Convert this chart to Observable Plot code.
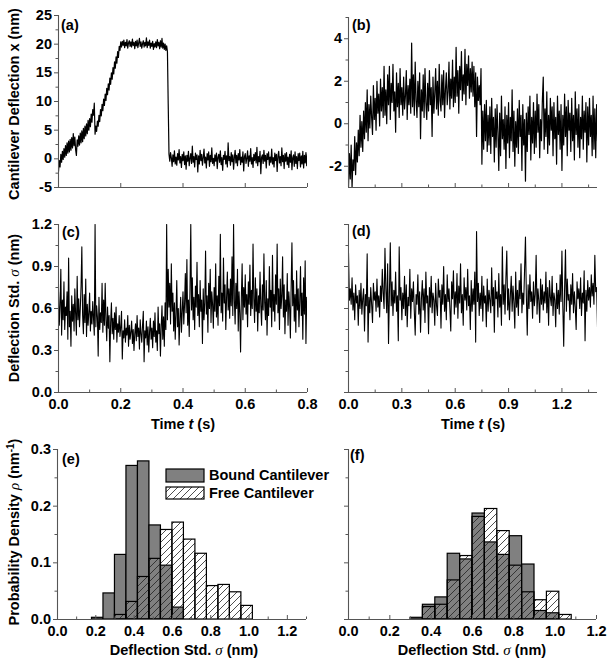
<!DOCTYPE html>
<html><head><meta charset="utf-8">
<script src="https://cdn.jsdelivr.net/npm/d3@7"></script>
<script src="https://cdn.jsdelivr.net/npm/@observablehq/plot@0.6"></script>
<style>
body{margin:0;background:#fff;}
#root{position:relative;width:609px;height:665px;overflow:hidden;}
</style></head><body><div id="root"></div>
<script>
// ---------- Data ----------
// (a) cantilever deflection x (nm), sampled every 0.0025 s from 0 to 0.8 s
const stepA = 0.0025;
const deflA = [
-2.2,-0.3,-1.4,0.8,-0.6,1.3,-0.1,1.8,0.3,
2.3,0.6,2.8,1.0,3.1,1.2,3.4,1.5,3.7,1.9,4.4,
2.3,3.8,1.6,0.6,
3.3,2.2,4.0,2.4,4.5,2.8,4.9,3.0,5.3,3.5,5.7,4.0,6.1,4.4,6.7,5.0,
7.0,5.6,7.8,6.4,8.6,7.6,9.7,
4.3,
5.7,4.8,6.6,5.7,7.6,6.5,8.6,7.5,9.5,8.4,10.4,9.3,11.3,10.2,12.3,11.2,13.1,12.0,14.1,13.0,15.0,13.9,15.9,14.8,16.9,15.8,17.8,16.7,18.7,17.7,19.6,18.9,20.4,
19.5,20.5,19.8,20.7,19.4,20.3,19.7,20.8,19.3,20.2,
20.6,19.6,20.4,19.5,20.9,19.8,20.3,19.2,20.5,19.7,
20.7,19.4,20.2,21.0,19.6,20.4,19.3,20.1,20.6,19.5,
20.3,19.7,21.1,19.4,20.4,19.8,20.7,19.3,20.2,19.6,
20.5,19.1,20.1,19.5,20.4,19.4,20.8,19.7,20.3,19.2,
20.6,19.5,21.0,19.3,20.2,19.1,20.0,18.9,19.7,18.7,
9.5,0.8,
-0.4,1.1,0.2,-1.3,0.7,-0.5,1.4,-0.9,0.3,-1.1,
0.9,-0.2,1.6,-0.7,0.4,-1.5,0.8,-0.3,1.2,-1.0,
0.5,-1.8,0.6,-0.4,1.3,-1.2,0.1,0.9,-0.8,2.2,
-0.6,0.4,-1.4,1.0,-0.1,0.7,-2.3,0.5,-0.9,1.5,
-0.3,0.8,-1.1,0.2,1.7,-0.7,0.3,-1.6,0.9,-0.2,
1.2,-1.3,0.6,-0.5,1.9,-0.8,0.1,-1.2,0.7,-0.4,
1.0,-1.7,0.3,0.8,-0.6,1.4,-1.0,0.2,-2.0,0.6,
-0.1,1.3,-0.9,0.5,-1.4,2.8,-0.3,0.4,-1.1,1.1,
-0.5,0.7,-1.8,0.2,1.5,-0.7,0.6,-1.2,0.9,-0.2,
1.6,-1.0,0.3,-0.6,1.2,-2.1,0.4,0.9,-0.8,0.1,
1.4,-1.3,0.5,-0.4,1.8,-0.9,0.2,-1.5,0.8,-0.3,
1.1,-0.7,2.0,-1.2,0.4,-0.5,1.3,-2.6,0.3,0.7,
-0.8,1.5,-0.4,0.6,-1.6,0.9,-0.1,1.2,-1.1,0.3,
-0.6,1.7,-0.9,0.2,-1.4,1.0,-0.3,0.8,-2.2,0.5,
1.3,-0.7,0.4,-1.2,1.9,-0.5,0.6,-1.7,0.9,-0.4,
1.1,-1.0,0.3,-1.5,0.8,-0.6,1.4,-1.9,0.2,0.7,
-1.3,1.2,-0.8,0.4,-1.7,0.9,-0.3,1.0,-1.4,0.5,
-0.9,1.3,-1.6,0.6,-0.7,1.1,-1.2,0.8
];

// (b) deflection x (nm), every 0.005 s from 0 to 1.4 s
const stepB = 0.005;
const deflB = [
-3.0,-1.4,-2.6,-1.0,-3.0,-1.7,-2.2,-0.6,-2.4,-0.9,
-1.8,-0.3,-1.5,0.4,-1.1,0.1,-1.3,0.6,-0.7,1.0,
-0.4,1.6,-0.8,0.9,-0.2,1.3,0.3,-0.5,1.8,0.2,
1.2,-0.3,2.0,0.5,1.4,-0.1,2.1,0.6,1.7,0.3,
2.7,0.4,1.6,0.0,2.3,0.9,2.7,0.2,1.9,1.0,
2.8,0.6,1.5,-0.4,2.4,0.8,1.9,0.3,2.6,0.9,
1.7,0.4,2.2,0.7,1.3,2.5,0.2,1.8,0.9,2.1,
0.5,3.8,0.8,2.3,0.4,2.9,1.1,0.3,2.0,0.8,
2.4,-0.7,1.6,0.6,2.3,0.3,2.6,1.0,0.2,1.9,
0.6,2.5,0.9,1.7,-0.6,2.2,0.5,1.4,2.6,0.7,
2.0,0.4,2.8,1.1,0.6,2.3,0.9,2.5,0.3,1.6,
2.4,0.9,1.5,2.9,0.7,2.1,1.2,3.0,0.8,2.2,
1.0,3.6,1.3,2.5,0.5,2.7,1.6,3.4,1.1,2.3,
1.4,3.5,0.9,2.8,1.8,3.2,1.2,2.6,1.5,2.9,
1.3,2.7,0.8,2.4,-0.6,2.2,1.1,1.8,0.9,2.6,
-1.9,0.6,-1.2,0.9,-0.8,1.1,-1.3,0.4,-1.0,0.8,
-1.4,1.2,-0.6,0.3,-1.8,0.7,-1.1,0.9,-0.4,-2.2,
0.5,-1.5,1.3,-0.7,0.2,-1.2,0.8,-2.1,0.4,-0.9,
1.0,-1.6,0.3,-0.8,1.6,-1.3,0.6,-2.0,0.1,-1.1,
0.7,-1.4,1.1,-0.6,0.4,-2.2,0.9,-1.0,0.2,-2.7,
0.5,-1.3,0.8,-0.5,1.3,-1.7,0.3,-0.9,1.0,-1.4,
0.6,-1.1,1.4,-0.4,0.9,-1.6,0.2,-0.8,1.1,2.2,
-1.2,0.7,-0.6,1.5,-1.4,0.4,-1.0,1.2,-0.3,0.8,
-1.5,1.0,-0.7,0.3,-1.9,1.3,-0.5,0.6,-1.2,0.9,
-2.2,0.4,-1.0,1.4,-0.6,0.8,-1.5,1.1,-0.3,0.5,
-1.3,1.2,-0.8,0.4,-1.7,1.5,-0.5,0.7,-1.1,0.9,
-1.6,0.3,-0.7,1.3,-1.2,0.6,-0.4,1.0,-1.8,0.8,
-1.0,1.2,-0.6,0.4,-1.5,1.3,-1.2,0.7,-1.6,0.9,
-0.8
];

// (c) deflection std sigma (nm), every 0.0025 s from 0 to 0.8 s
const stepC = 0.0025;
const stdC = [
0.72,0.48,0.62,0.88,0.41,0.66,0.52,0.79,0.45,0.61,0.55,0.72,0.38,0.96,0.47,0.58,0.33,0.69,0.51,0.63,
0.44,0.74,0.56,0.41,0.83,0.52,0.67,0.47,0.60,0.76,1.04,0.55,0.42,0.70,0.50,0.81,0.40,0.63,0.48,0.57,
0.71,0.44,0.58,0.49,0.65,0.53,0.41,1.20,0.47,0.62,0.54,0.26,0.68,0.45,0.57,0.50,0.78,0.43,0.66,0.48,
0.78,0.52,0.37,0.61,0.46,0.55,0.22,0.50,0.64,0.42,0.53,0.38,0.57,0.45,0.61,0.36,0.49,0.43,0.55,0.40,
0.47,0.58,0.24,0.44,0.39,0.52,0.36,0.46,0.41,0.55,0.33,0.48,0.38,0.43,0.51,0.35,0.45,0.30,0.42,0.49,
0.37,0.55,0.40,0.46,0.31,0.52,0.42,0.36,0.48,0.58,0.22,0.44,0.39,0.51,0.34,0.47,0.29,0.43,0.53,0.38,
0.46,0.32,0.51,0.40,0.57,0.36,0.44,0.30,0.61,0.42,0.49,0.26,0.47,0.62,0.38,0.54,0.33,0.64,0.45,1.20,
0.52,0.88,0.61,0.78,0.49,0.92,0.58,0.71,0.44,0.64,0.38,0.56,0.80,0.47,0.60,0.34,0.52,0.68,0.43,0.58,
0.72,0.49,0.63,0.85,0.57,0.95,0.48,0.66,0.40,0.74,1.20,0.59,0.82,0.52,0.68,0.45,0.76,0.61,0.93,0.55,
0.70,0.47,0.80,0.58,0.66,0.35,0.74,0.52,0.64,1.01,0.56,0.69,0.43,0.78,0.60,0.88,0.50,0.72,0.63,0.46,
0.75,0.58,0.92,0.54,0.69,0.48,0.83,0.62,1.13,0.57,0.71,0.51,0.96,0.64,0.77,0.45,0.68,0.86,0.59,0.74,
0.53,0.81,0.62,0.97,0.55,1.20,0.66,0.49,0.78,0.60,0.88,0.44,0.72,0.57,0.29,0.68,0.92,0.52,0.75,0.61,
0.84,0.56,0.70,0.47,0.79,0.63,0.91,0.55,0.73,0.60,1.06,0.67,0.50,0.82,0.58,0.74,0.44,0.69,0.57,0.86,
0.62,0.48,0.77,0.59,0.99,0.64,0.52,0.80,0.41,0.67,0.55,0.90,0.61,0.73,0.47,0.98,0.58,0.70,0.51,0.84,
0.63,1.06,0.57,0.74,0.45,0.81,0.60,0.69,0.97,0.54,0.77,0.42,0.66,0.58,0.85,0.48,0.72,0.61,0.39,0.76,
1.07,0.62,0.80,0.51,0.70,0.43,0.87,0.59,0.74,0.47,0.65,0.90,0.55,0.71,0.38,0.82,0.56,0.94,0.35,0.68,
0.60
];

// (d) deflection std sigma (nm), every 0.005 s from 0 to 1.4 s
const stepD = 0.005;
const stdD = [
1.00,0.66,0.74,0.63,0.82,0.59,0.71,0.52,0.77,0.64,0.69,0.48,0.73,0.60,0.78,0.56,0.67,0.74,0.44,0.70,
0.62,0.99,0.36,0.68,0.57,0.75,0.63,0.50,0.78,0.66,0.72,0.58,0.81,0.61,0.69,0.54,0.76,0.65,0.88,0.71,
0.60,1.03,0.74,0.57,0.92,0.35,0.70,1.07,0.62,0.79,0.55,0.73,0.64,0.86,0.58,0.69,0.37,1.04,0.66,0.75,
0.52,0.71,0.60,0.83,0.55,0.77,0.47,0.68,0.62,0.88,0.53,0.74,0.65,0.79,0.58,0.41,0.70,0.63,0.84,0.56,
0.72,0.43,0.67,0.80,0.59,0.74,0.50,0.86,0.64,0.69,0.42,0.75,0.61,0.83,0.57,0.71,0.66,0.48,0.78,0.62,
0.55,0.81,0.68,0.73,0.46,0.77,0.63,0.90,0.58,0.70,0.52,0.84,0.65,0.74,0.60,0.44,0.79,0.67,0.87,0.56,
0.72,0.61,0.85,0.53,0.76,0.64,0.92,0.57,0.70,0.48,0.82,0.66,0.75,0.59,0.88,0.62,0.69,0.45,0.80,0.58,
0.74,0.63,0.86,0.36,1.15,0.65,0.78,0.55,0.71,0.60,0.83,0.51,0.76,0.64,0.69,0.47,0.81,0.58,0.73,0.66,
0.57,0.89,0.62,0.75,0.43,0.80,0.67,0.72,0.54,0.85,0.61,0.70,0.48,1.04,0.63,0.77,0.56,0.82,1.01,0.59,
0.74,0.52,0.69,0.83,0.58,0.76,0.64,0.46,0.86,0.61,0.73,0.55,0.80,0.67,0.92,0.57,0.71,0.63,0.88,1.11,
0.69,0.41,0.77,0.60,0.84,0.65,0.72,0.53,0.79,0.62,0.70,0.98,0.56,0.74,0.66,0.50,0.81,0.63,0.77,0.59,
0.72,0.64,0.86,0.57,0.75,0.48,0.80,0.68,0.62,0.83,0.55,0.71,0.66,0.47,0.78,0.60,0.73,0.56,0.84,0.65,
1.01,0.62,0.33,0.74,1.02,0.58,0.81,0.66,0.70,0.52,0.77,0.63,0.85,0.57,0.72,0.61,0.45,0.79,0.67,0.74,
0.60,0.82,0.55,0.71,0.64,0.87,0.37,0.73,0.58,0.80,0.66,0.75,0.61,0.84,0.69,0.78,0.63,0.98,0.72,0.75,
0.47
];

// (e)/(f) histograms: bin lower edges and probability densities (nm^-1)
const binWidth = 0.06;
const eBoundBins    = [0.18,0.24,0.30,0.36,0.42,0.48,0.54,0.60];
const eBoundDensity = [0.003,0.046,0.114,0.271,0.279,0.166,0.095,0.021];
const eFreeBins     = [0.30,0.36,0.42,0.48,0.54,0.60,0.66,0.72,0.78,0.84,0.90,0.96];
const eFreeDensity  = [0.008,0.031,0.075,0.107,0.158,0.171,0.141,0.116,0.059,0.061,0.048,0.024];
const fBoundBins    = [0.30,0.36,0.42,0.48,0.54,0.60,0.66,0.72,0.78,0.84,0.90,0.96];
const fBoundDensity = [0.003,0.026,0.039,0.116,0.106,0.187,0.136,0.114,0.147,0.097,0.015,0.011];
const fFreeBins     = [0.36,0.42,0.48,0.54,0.60,0.66,0.72,0.78,0.84,0.90,0.96,1.02];
const fFreeDensity  = [0.022,0.026,0.069,0.112,0.181,0.195,0.156,0.095,0.048,0.034,0.049,0.008];

// tick values
const ticksA_y = [-5,0,5,10,15,20,25];
const ticksA_yMinor = [-2.5,2.5,7.5,12.5,17.5,22.5];
const ticksA_x = [0,0.2,0.4,0.6,0.8];
const ticksB_y = [-2,0,2,4];
const ticksB_yMinor = [-1,1,3,5];
const ticksLong_x = [0,0.3,0.6,0.9,1.2];
const ticksLong_xMinor = [0.15,0.45,0.75,1.05,1.35];
const ticksStd_y = [0,0.3,0.6,0.9,1.2];
const ticksStd_yMinor = [0.15,0.45,0.75,1.05];
const ticksC_xMinor = [0.1,0.3,0.5,0.7];
const ticksHist_y = [0,0.1,0.2,0.3];
const ticksHist_yMinor = [0.05,0.15,0.25];
const ticksHist_x = [0,0.2,0.4,0.6,0.8,1.0,1.2];
const ticksE_xMinor = [0.1,0.3,0.5,0.7,0.9,1.1,1.3];
const ticksF_xMinor = [0.1,0.3,0.5,0.7,0.9,1.1];

// ---------- Drawing ----------
const FONT = '"Liberation Sans", Arial, Helvetica, sans-serif';
const axisColor = "#555";
const barGray = "#808080";
const root = document.getElementById("root");
const fmtPlain = d => String(d);
const fmt1 = d => d.toFixed(1);
const series = (vals, step) => vals.map((v, i) => ({t: i * step, v}));
const bars = (bins, dens) => bins.map((b, i) => ({x1: b, x2: b + binWidth, v: dens[i]}));

function panel(c) {
  const axes = [
    Plot.ruleY([c.yd[0]], {stroke: axisColor, strokeWidth: 1.1}),
    Plot.ruleX([c.xd[0]], {stroke: axisColor, strokeWidth: 1.1}),
    Plot.axisY(c.yMaj, {anchor: "left", tickSize: 4, tickFormat: () => "", stroke: axisColor, label: null}),
    Plot.axisX(c.xMaj, {anchor: "bottom", tickSize: -4, tickFormat: () => "", stroke: axisColor, label: null})
  ];
  if (c.yMin) axes.push(Plot.axisY(c.yMin, {anchor: "left", tickSize: 2.5, tickFormat: () => "", stroke: axisColor, label: null}));
  if (c.xMin) axes.push(Plot.axisX(c.xMin, {anchor: "bottom", tickSize: -2.5, tickFormat: () => "", stroke: axisColor, label: null}));
  if (c.yFmt) axes.push(Plot.axisY(c.yMaj, {anchor: "left", tickSize: 0, tickPadding: 6.5, tickFormat: c.yFmt, label: null, fill: "black"}));
  if (c.xFmt) axes.push(Plot.axisX(c.xMaj, {anchor: "bottom", tickSize: 0, tickPadding: 6, tickFormat: c.xFmt, label: null, fill: "black"}));
  const svg = Plot.plot({
    width: c.w, height: c.h,
    marginLeft: c.ml, marginRight: c.mr, marginTop: c.mt, marginBottom: c.mb,
    x: {domain: c.xd}, y: {domain: c.yd},
    style: {background: "transparent", overflow: "visible", fontFamily: FONT, fontSize: "14.5px", fontWeight: "bold", color: "black"},
    marks: [...c.marks, ...axes]
  });
  svg.style.position = "absolute";
  svg.style.left = c.left + "px";
  svg.style.top = c.top + "px";
  root.appendChild(svg);
}

const lineOpts = {x: "t", y: "v", stroke: "black", strokeWidth: 1.2, clip: true};
const lineOptsStd = {x: "t", y: "v", stroke: "black", strokeWidth: 1.1, clip: true};

// (a)
panel({left: 0, top: 0, w: 310, h: 200, ml: 58, mr: 3, mt: 15, mb: 13,
  xd: [0, 0.8], yd: [-5, 25], xMaj: ticksA_x, yMaj: ticksA_y, yMin: ticksA_yMinor, yFmt: fmtPlain,
  marks: [Plot.line(series(deflA, stepA), lineOpts)]});
// (b)
panel({left: 300, top: 0, w: 309, h: 200, ml: 48, mr: 12, mt: 17, mb: 13,
  xd: [0, 1.4], yd: [-3, 5], xMaj: ticksLong_x, xMin: ticksLong_xMinor, yMaj: ticksB_y, yMin: ticksB_yMinor, yFmt: fmtPlain,
  marks: [Plot.line(series(deflB, stepB), lineOpts)]});
// (c)
panel({left: 0, top: 200, w: 310, h: 220, ml: 58, mr: 3, mt: 24, mb: 28,
  xd: [0, 0.8], yd: [0, 1.2], xMaj: ticksA_x, xMin: ticksC_xMinor, yMaj: ticksStd_y, yMin: ticksStd_yMinor, yFmt: fmt1, xFmt: fmt1,
  marks: [Plot.line(series(stdC, stepC), lineOptsStd)]});
// (d)
panel({left: 300, top: 200, w: 309, h: 220, ml: 48, mr: 12, mt: 24, mb: 28,
  xd: [0, 1.4], yd: [0, 1.2], xMaj: ticksLong_x, xMin: ticksLong_xMinor, yMaj: ticksStd_y, yMin: ticksStd_yMinor, xFmt: fmt1,
  marks: [Plot.line(series(stdD, stepD), lineOptsStd)]});
// (e)
panel({left: 0, top: 430, w: 310, h: 235, ml: 57, mr: 4, mt: 19, mb: 46,
  xd: [0, 1.3], yd: [0, 0.3], xMaj: ticksHist_x, xMin: ticksE_xMinor, yMaj: ticksHist_y, yMin: ticksHist_yMinor, yFmt: fmt1, xFmt: fmt1,
  marks: [
    Plot.rectY(bars(eBoundBins, eBoundDensity), {x1: "x1", x2: "x2", y: "v", fill: barGray, stroke: "black", strokeWidth: 1.2}),
    Plot.rectY(bars(eFreeBins, eFreeDensity), {x1: "x1", x2: "x2", y: "v", fill: "url(#hatch)", stroke: "black", strokeWidth: 1.2})
  ]});
// (f)
panel({left: 300, top: 430, w: 309, h: 235, ml: 48, mr: 13, mt: 19, mb: 46,
  xd: [0, 1.2], yd: [0, 0.3], xMaj: ticksHist_x, xMin: ticksF_xMinor, yMaj: ticksHist_y, yMin: ticksHist_yMinor, xFmt: fmt1,
  marks: [
    Plot.rectY(bars(fBoundBins, fBoundDensity), {x1: "x1", x2: "x2", y: "v", fill: barGray, stroke: "black", strokeWidth: 1.2}),
    Plot.rectY(bars(fFreeBins, fFreeDensity), {x1: "x1", x2: "x2", y: "v", fill: "url(#hatch)", stroke: "black", strokeWidth: 1.2})
  ]});

// ---------- Overlay: titles, panel tags, legend ----------
const ov = d3.select(root).append("svg")
  .attr("width", 609).attr("height", 665)
  .style("position", "absolute").style("left", "0px").style("top", "0px")
  .style("pointer-events", "none")
  .attr("font-family", FONT).attr("font-weight", "bold").attr("font-size", 14.5);

const pat = ov.append("defs").append("pattern")
  .attr("id", "hatch").attr("patternUnits", "userSpaceOnUse").attr("width", 7).attr("height", 7);
pat.append("path").attr("d", "M-1,1 L1,-1 M0,7 L7,0 M6,8 L8,6")
  .attr("stroke", "#222").attr("stroke-width", 0.8).attr("fill", "none");

// panel tags
const tags = [["(a)", 61, 30], ["(b)", 352, 30], ["(c)", 62, 237], ["(d)", 352, 236], ["(e)", 62, 464], ["(f)", 350, 460]];
tags.forEach(([s, x, y]) => ov.append("text").attr("x", x).attr("y", y).text(s));

function greekTitle(g, parts) {
  parts.forEach(p => {
    const ts = g.append("tspan").text(p.s);
    if (p.greek) ts.attr("font-family", '"Liberation Serif", "DejaVu Serif", serif').attr("font-style", "italic").attr("font-weight", "normal").attr("font-size", 15);
    if (p.italic) ts.attr("font-style", "italic");
    if (p.dy) ts.attr("dy", p.dy);
    if (p.fs) ts.attr("font-size", p.fs);
  });
}

// left titles (rotated)
const lt1 = ov.append("text").attr("text-anchor", "middle").attr("transform", "translate(19,104) rotate(-90)");
greekTitle(lt1, [{s: "Cantilever Deflection x (nm)"}]);
const lt2 = ov.append("text").attr("text-anchor", "middle").attr("transform", "translate(19,308) rotate(-90)");
greekTitle(lt2, [{s: "Deflection Std. "}, {s: "σ", greek: true}, {s: "  (nm)"}]);
const lt3 = ov.append("text").attr("text-anchor", "middle").attr("transform", "translate(19,532) rotate(-90)");
greekTitle(lt3, [{s: "Probability Density "}, {s: "ρ", greek: true}, {s: "  (nm"}, {s: "-1", dy: -5, fs: 10}, {s: ")", dy: 5}]);

// bottom titles
[183, 473].forEach(cx => {
  const t = ov.append("text").attr("text-anchor", "middle").attr("x", cx).attr("y", 429);
  greekTitle(t, [{s: "Time "}, {s: "t", italic: true}, {s: " (s)"}]);
});
[184, 472].forEach(cx => {
  const t = ov.append("text").attr("text-anchor", "middle").attr("x", cx).attr("y", 655);
  greekTitle(t, [{s: "Deflection Std. "}, {s: "σ", greek: true}, {s: "  (nm)"}]);
});

// legend
ov.append("rect").attr("x", 166).attr("y", 469).attr("width", 38).attr("height", 13)
  .attr("fill", barGray).attr("stroke", "black").attr("stroke-width", 1.2);
ov.append("rect").attr("x", 166).attr("y", 487).attr("width", 38).attr("height", 12)
  .attr("fill", "url(#hatch)").attr("stroke", "black").attr("stroke-width", 1.2);
ov.append("text").attr("x", 209).attr("y", 480).text("Bound Cantilever");
ov.append("text").attr("x", 209).attr("y", 498).text("Free Cantilever");
</script>
</body></html>
